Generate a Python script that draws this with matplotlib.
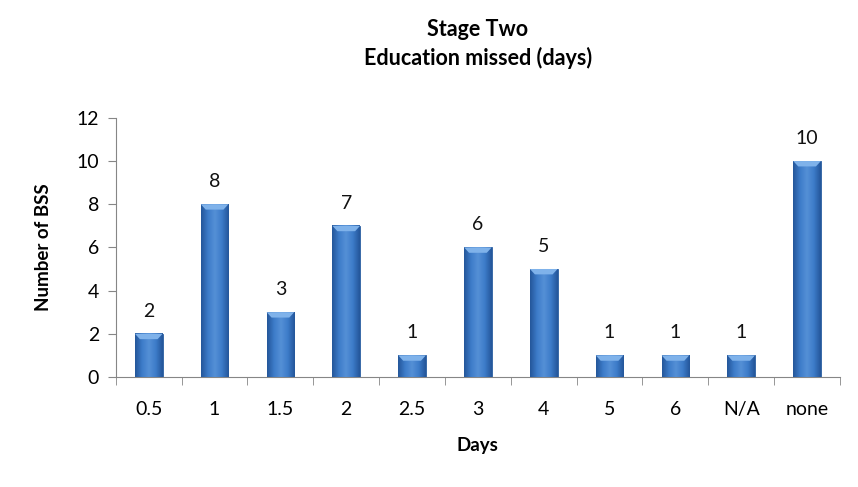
import numpy as np
import matplotlib.pyplot as plt
from matplotlib.colors import LinearSegmentedColormap

plt.rcParams['font.family'] = ['Lato', 'DejaVu Sans']

days = ["0.5", "1", "1.5", "2", "2.5", "3", "4", "5", "6", "N/A", "none"]
bss_count = [2, 8, 3, 7, 1, 6, 5, 1, 1, 1, 10]

fig = plt.figure(figsize=(8.58, 4.87), dpi=100)
ax = fig.add_axes([0.135, 0.226, 0.844, 0.532])

x = np.arange(len(days))
width = 0.42

# shaded fill for each bar: dark edges, lighter middle
shade = LinearSegmentedColormap.from_list(
    "barshade", ["#24569a", "#3d7cc9", "#5590d6", "#3d7cc9", "#24569a"])
grad = np.linspace(0, 1, 64).reshape(1, -1)

bars = ax.bar(x, bss_count, width=width, color="#3b78c4", edgecolor="#2a5d9f",
              linewidth=0.6, zorder=2)
for b in bars:
    x0, w, h = b.get_x(), b.get_width(), b.get_height()
    ax.imshow(grad, cmap=shade, aspect="auto", extent=(x0, x0 + w, 0, h),
              zorder=3, interpolation="bicubic")
    # lighter bevel on the top edge
    cap = min(0.25, h * 0.3)
    ax.fill([x0, x0 + w, x0 + w * 0.82, x0 + w * 0.18],
            [h, h, h - cap, h - cap], color="#7fb2ea", zorder=4, lw=0)
    ax.text(x0 + w / 2, h + 0.65, f"{int(h)}", ha="center", va="bottom",
            fontsize=14, color="#111111")

ax.set_xlim(-0.5, len(days) - 0.5)
ax.set_ylim(0, 12)
ax.set_yticks(range(0, 13, 2))
ax.set_xticks(x)
ax.set_xticklabels(days)
ax.set_xticks(np.arange(-0.5, len(days), 1), minor=True)
ax.tick_params(axis="x", which="major", length=0, pad=17, labelsize=14)
ax.tick_params(axis="x", which="minor", length=6, color="#868686", direction="out")
ax.tick_params(axis="y", length=6, color="#868686", direction="out", labelsize=14, pad=6)

for side in ["top", "right"]:
    ax.spines[side].set_visible(False)
for side in ["left", "bottom"]:
    ax.spines[side].set_color("#868686")

ax.set_ylabel("Number of BSS", fontsize=13.5, fontweight="bold", labelpad=18)
ax.set_xlabel("Days", fontsize=13.5, fontweight="bold", labelpad=14)
fig.suptitle("Stage Two\nEducation missed (days)", x=0.557, y=0.962,
             fontsize=15.5, fontweight="bold", linespacing=1.4)

fig.savefig("out.png", dpi=100)
